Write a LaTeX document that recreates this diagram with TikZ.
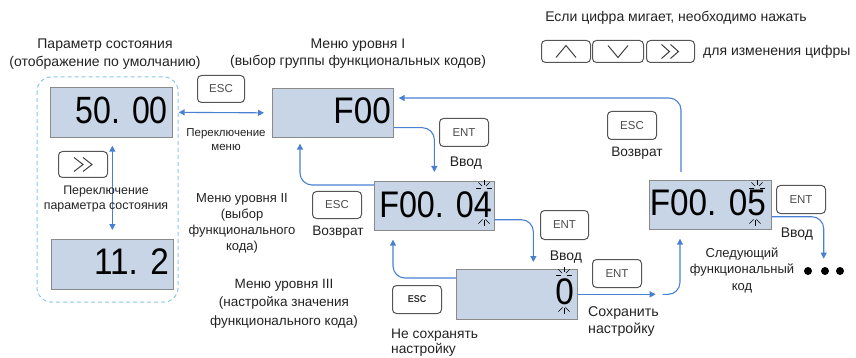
\documentclass[tikz,border=0pt]{standalone}
\usepackage{fontspec}
\setmainfont{Liberation Sans}
\newfontfamily\digfont[FakeStretch=0.9]{Liberation Sans}
\usetikzlibrary{arrows.meta,calc}
\definecolor{dispfill}{HTML}{C8D5E6}
\definecolor{dispdraw}{HTML}{8A8A8A}
\definecolor{arr}{HTML}{4A80D2}
\definecolor{grpdash}{HTML}{8CC9E2}
\definecolor{txt}{HTML}{222222}
\definecolor{btn}{HTML}{555555}
\begin{document}
\begin{tikzpicture}[x=1pt,y=-1pt,
  disp/.style={draw=dispdraw, fill=dispfill, line width=0.7pt, inner sep=0pt, anchor=north west},
  btnbox/.style={draw=btn, fill=white, rounded corners=4pt, line width=1pt, inner sep=0pt, anchor=north west, font=\fontsize{11.5}{12}\selectfont, text=black!70},
  lbl/.style={text=txt, align=center, inner sep=0pt},
  flow/.style={draw=arr, line width=1.1pt, -{Triangle[length=6pt,width=6pt]}, rounded corners=12pt},
  dflow/.style={draw=arr, line width=1.1pt, {Triangle[length=6pt,width=6pt]}-{Triangle[length=6pt,width=6pt]}},
  dig/.style={font=\digfont\fontsize{37}{37}\selectfont, inner sep=0pt, anchor=east, text=black},
  chev/.style={draw=black!75, line width=1pt},
  blink/.style={draw=black, line width=0.6pt}
]
\useasboundingbox (0,0) rectangle (856,358);

% group frame
\draw[grpdash, line width=1pt, dash pattern=on 4pt off 3pt, rounded corners=14pt] (37,77) rectangle (178,302);

% displays
\node[disp, minimum width=122pt, minimum height=50pt] (d1) at (50,87) {};
\node[disp, minimum width=122pt, minimum height=50pt] (d2) at (51,239) {};
\node[disp, minimum width=121pt, minimum height=49pt] (d3) at (272,88) {};
\node[disp, minimum width=120pt, minimum height=49pt] (d4) at (374,181) {};
\node[disp, minimum width=121pt, minimum height=50pt] (d5) at (456,269) {};
\node[disp, minimum width=122pt, minimum height=49pt] (d6) at (649,180) {};

\node[dig, font=\digfont\fontsize{38}{38}\selectfont] (t1) at (168,110) {\scalebox{0.94}[1]{50. 00}};
\node[dig] (t2) at (169,262) {11. 2};
\node[dig] (t3) at (391,110.5) {F00};
\node[dig] (t4) at (492,205) {\scalebox{0.97}[1]{F00. 04}};
\node[dig] (t5) at (574,291.5) {0};
\node[dig] (t6) at (766,203) {F00. 05};

% blink marks
\foreach \cx/\cy/\bx/\by in {484/190/484/218, 564/277/564/306, 757/190/755/218}{
  \foreach \dx/\dy in {-0.7/-0.7, 0/-1, 0.7/-0.7, -1/0, 1/0}{
    \draw[blink] (\cx+3*\dx,\cy+3*\dy-2) -- (\cx+8*\dx,\cy+8*\dy-2);
  }
  \foreach \dx/\dy in {-0.7/0.7, 0/1, 0.7/0.7}{
    \draw[blink] (\bx+2*\dx,\by+2*\dy) -- (\bx+8*\dx,\by+8*\dy);
  }
}

% buttons
\node[btnbox, minimum width=47pt, minimum height=27pt] (esc1) at (197,75) {ESC};
\node[btnbox, minimum width=49pt, minimum height=26pt] (sh1) at (58,151) {};
\node[btnbox, minimum width=49pt, minimum height=28pt] (ent1) at (439,118) {ENT};
\node[btnbox, minimum width=49pt, minimum height=27pt] (esc2) at (312,191) {ESC};
\node[btnbox, minimum width=48pt, minimum height=29pt] (ent2) at (540,210) {ENT};
\node[btnbox, minimum width=49pt, minimum height=28pt, font=\digfont\bfseries\fontsize{10}{12}\selectfont, text=black!80] (esc3) at (392,285) {ESC};
\node[btnbox, minimum width=49pt, minimum height=28pt] (ent3) at (592,259) {ENT};
\node[btnbox, minimum width=49pt, minimum height=28pt] (esc4) at (607,111) {ESC};
\node[btnbox, minimum width=49pt, minimum height=28pt] (ent4) at (776,185) {ENT};
\node[btnbox, minimum width=49pt, minimum height=22pt] (bup) at (541,40) {};
\node[btnbox, minimum width=51pt, minimum height=22pt] (bdn) at (592,40) {};
\node[btnbox, minimum width=48pt, minimum height=22pt] (bsh) at (646,40) {};

% chevrons
\draw[chev] ($(sh1.center)+(-9,-7)$) -- ++(9,7) -- ++(-9,7);
\draw[chev] ($(sh1.center)+(0,-7)$) -- ++(9,7) -- ++(-9,7);
\draw[chev] ($(bup.center)+(-10,6)$) -- ++(10,-12) -- ++(10,12);
\draw[chev] ($(bdn.center)+(-10,-6)$) -- ++(10,12) -- ++(10,-12);
\draw[chev] ($(bsh.center)+(-9,-7)$) -- ++(8,7) -- ++(-8,7);
\draw[chev] ($(bsh.center)+(0,-7)$) -- ++(8,7) -- ++(-8,7);

% connectors
\draw[dflow] ($(d1.east)+(6,0)$) -- ($(d3.west)+(-8,0)$);
\draw[dflow] ($(d1.south)+(1,8)$) -- ($(d2.north)+(0,-9)$);
\draw[flow] ($(d3.south east)+(0,-10)$) -| ($(d5.north)+(-82.5,-97)$);
\draw[flow] ($(d4.north west)+(0,4)$) -| ($(d3.south west)+(28,6)$);
\draw[flow] ($(d4.south east)+(0,-11)$) -| ($(d5.north)+(16.5,-7)$);
\draw[flow] ($(d5.north west)+(0,9)$) -| ($(d4.south west)+(19,9)$);
\coordinate (gapA) at ($(d5.east)+(78,0)$);
\coordinate (gapB) at ($(d5.east)+(85,0)$);
\draw[flow, rounded corners=0pt] (d5.east) -- (gapA);
\draw[flow] (gapB) -| ($(d6.south west)+(31,9)$);
\draw[flow] ($(d6.north west)+(32,-8)$) |- ($(d3.north east)+(5,10)$);
\draw[flow] ($(d6.south east)+(0,-13)$) -| ($(d6.south east)+(52,29)$);

% dots
\fill (808,271) circle (4) (825,271) circle (4) (840,271) circle (4);

% labels
\node[lbl, font=\fontsize{14}{18}\selectfont] (l1) at (105,54) {Параметр состояния\\(отображение по умолчанию)};
\node[lbl, font=\fontsize{14}{17}\selectfont] (l2) at (358,53.5) {Меню уровня I\\(выбор группы функциональных кодов)};
\node[lbl, font=\fontsize{11.5}{14}\selectfont] (l3) at (226,139.5) {Переключение\\меню};
\node[lbl, font=\fontsize{12.4}{15}\selectfont] (l4) at (106,199.5) {Переключение\\параметра состояния};
\node[lbl, font=\fontsize{13}{16}\selectfont] (l5) at (242,223) {Меню уровня II\\(выбор\\функционального\\кода)};
\node[lbl, font=\fontsize{13.5}{18.5}\selectfont] (l6) at (284,303.5) {Меню уровня III\\(настройка значения\\функционального кода)};
\node[lbl, font=\fontsize{14}{15}\selectfont] (l7) at (466,163) {Ввод};
\node[lbl, font=\fontsize{13.7}{15}\selectfont] (l8) at (338,232) {Возврат};
\node[lbl, font=\fontsize{14}{15}\selectfont] (l9) at (566,257) {Ввод};
\node[lbl, font=\fontsize{13.8}{15.5}\selectfont, align=left, anchor=west] (l10) at (391,342.5) {Не сохранять\\настройку};
\node[lbl, font=\fontsize{14.2}{17}\selectfont, align=left, anchor=west] (l11) at (588,321.5) {Сохранить\\настройку};
\node[lbl, font=\fontsize{13.7}{15}\selectfont] (l12) at (637,153) {Возврат};
\node[lbl, font=\fontsize{14}{15}\selectfont] (l13) at (797,234) {Ввод};
\node[lbl, font=\fontsize{13}{16.5}\selectfont] (l14) at (742,270) {Следующий\\функциональный\\код};
\node[lbl, font=\fontsize{14}{15}\selectfont] (l15) at (676,18) {Если цифра мигает, необходимо нажать};
\node[lbl, font=\fontsize{14}{15}\selectfont, anchor=west] (l16) at (703,52) {для изменения цифры};
\end{tikzpicture}
\end{document}
